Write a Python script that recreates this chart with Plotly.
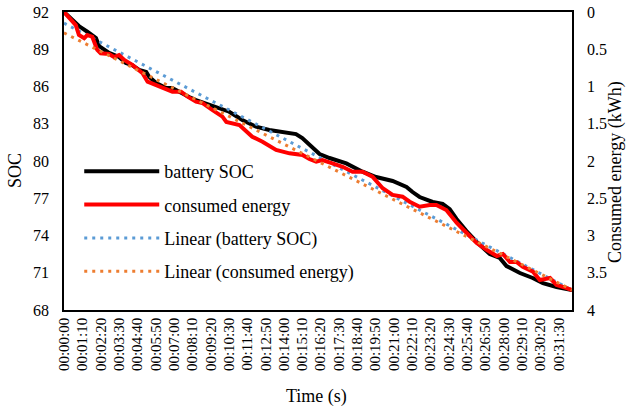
import plotly.graph_objects as go

# ---- data ----
tick_labels = ["00:00:00", "00:01:10", "00:02:20", "00:03:30", "00:04:40", "00:05:50",
               "00:07:00", "00:08:10", "00:09:20", "00:10:30", "00:11:40", "00:12:50",
               "00:14:00", "00:15:10", "00:16:20", "00:17:30", "00:18:40", "00:19:50",
               "00:21:00", "00:22:10", "00:23:20", "00:24:30", "00:25:40", "00:26:50",
               "00:28:00", "00:29:10", "00:30:20", "00:31:30"]
tick_seconds = [70 * i for i in range(len(tick_labels))]

soc_time = [0, 32, 57, 89, 108, 122, 134, 172, 210, 236, 260, 287, 314, 325, 352, 390,
            413, 440, 478, 504, 555, 631, 681, 733, 784, 834, 886, 910, 949, 976, 1014,
            1078, 1140, 1192, 1255, 1308, 1331, 1358, 1408, 1446, 1473, 1499, 1537, 1575,
            1626, 1664, 1690, 1741, 1790, 1829, 1881, 1940]
soc_values = [92.0, 91.36, 90.87, 90.41, 90.15, 89.91, 89.26, 88.70, 88.38, 87.89, 87.73,
              87.33, 87.17, 86.79, 86.28, 85.88, 85.88, 85.56, 85.15, 84.91, 84.51, 83.97,
              83.30, 82.76, 82.50, 82.36, 82.17, 81.85, 81.13, 80.56, 80.24, 79.81, 79.14,
              78.71, 78.39, 77.91, 77.50, 77.10, 76.70, 76.54, 76.13, 75.33, 74.36, 73.50,
              72.51, 72.19, 71.54, 70.98, 70.58, 70.17, 69.85, 69.61]

energy_time = [0, 26, 45, 57, 77, 89, 108, 127, 140, 172, 191, 210, 230, 261, 300, 319,
               351, 376, 414, 447, 472, 504, 528, 566, 605, 620, 670, 719, 758, 810, 861,
               911, 937, 963, 987, 1025, 1064, 1102, 1140, 1178, 1217, 1255, 1293, 1320,
               1358, 1397, 1422, 1460, 1500, 1538, 1576, 1615, 1653, 1676, 1703, 1728,
               1752, 1791, 1817, 1856, 1881, 1920, 1940]
energy_values = [0.0, 0.107, 0.175, 0.309, 0.353, 0.309, 0.332, 0.510, 0.554, 0.564, 0.604,
                 0.577, 0.644, 0.711, 0.823, 0.936, 0.980, 1.024, 1.070, 1.070, 1.137, 1.204,
                 1.221, 1.315, 1.405, 1.477, 1.517, 1.674, 1.741, 1.852, 1.897, 1.919, 1.973,
                 2.009, 1.987, 2.031, 2.077, 2.144, 2.144, 2.211, 2.366, 2.456, 2.479, 2.546,
                 2.613, 2.591, 2.591, 2.658, 2.832, 2.966, 3.101, 3.195, 3.275, 3.248, 3.356,
                 3.356, 3.419, 3.486, 3.597, 3.571, 3.664, 3.705, 3.732]

trend_time = [0, 1940]
trend_soc = [91.1, 69.6]
trend_energy = [0.28, 3.73]

FONT = "Liberation Serif"

fig = go.Figure()
fig.add_trace(go.Scatter(x=soc_time, y=soc_values, mode="lines", name="battery SOC",
                         legendgroup="a", line=dict(color="black", width=4)))
fig.add_trace(go.Scatter(x=energy_time, y=energy_values, mode="lines", name="consumed energy",
                         legendgroup="b", yaxis="y2", line=dict(color="#ff0000", width=4)))
fig.add_trace(go.Scatter(x=trend_time, y=trend_soc, mode="lines", name="Linear (battery SOC)",
                         legendgroup="c", line=dict(color="#5b9bd5", width=3, dash="3px,5px")))
fig.add_trace(go.Scatter(x=trend_time, y=trend_energy, mode="lines",
                         name="Linear (consumed energy)", legendgroup="d", yaxis="y2",
                         line=dict(color="#ed7d31", width=3, dash="3px,5px")))

title_font = dict(family=FONT, size=18, color="black")
fig.update_layout(
    width=628, height=408,
    margin=dict(l=64, r=56, t=12, b=98, autoexpand=False),
    paper_bgcolor="white", plot_bgcolor="white",
    font=dict(family=FONT, color="black", size=16),
    showlegend=True,
    legend=dict(x=0.03, y=0.527, xanchor="left", yanchor="top", bgcolor="rgba(0,0,0,0)",
                font=dict(family=FONT, size=18), tracegroupgap=7, itemwidth=75,
                traceorder="grouped"),
    xaxis=dict(range=[0, 1940], tickvals=tick_seconds, ticktext=tick_labels, tickangle=-90,
               showgrid=False, zeroline=False, showline=True, linecolor="black", linewidth=1.5,
               mirror=True, ticks="", tickfont=dict(family=FONT, size=15), automargin=False),
    yaxis=dict(range=[68, 92], tick0=68, dtick=3, showgrid=False, zeroline=False,
               showline=True, linecolor="black", linewidth=1.5, ticks="", automargin=False,
               tickfont=dict(family=FONT, size=16), ticklabelstandoff=10),
    yaxis2=dict(range=[4, 0], tick0=0, dtick=0.5, overlaying="y", side="right",
                showgrid=False, zeroline=False, showline=True, linecolor="black",
                linewidth=1.5, ticks="", tickfont=dict(family=FONT, size=16),
                ticklabelstandoff=10, automargin=False),
    annotations=[
        dict(text="Time (s)", xref="paper", yref="paper", x=0.498, y=-0.2886,
             xanchor="center", yanchor="middle", showarrow=False, font=title_font),
        dict(text="SOC", xref="paper", yref="paper", x=-0.0965, y=0.470, textangle=-90,
             xanchor="center", yanchor="middle", showarrow=False, font=title_font),
        dict(text="Consumed energy (kWh)", xref="paper", yref="paper", x=1.0846, y=0.463,
             textangle=-90, xanchor="center", yanchor="middle", showarrow=False,
             font=title_font),
    ],
)

fig.write_html("out.html")
